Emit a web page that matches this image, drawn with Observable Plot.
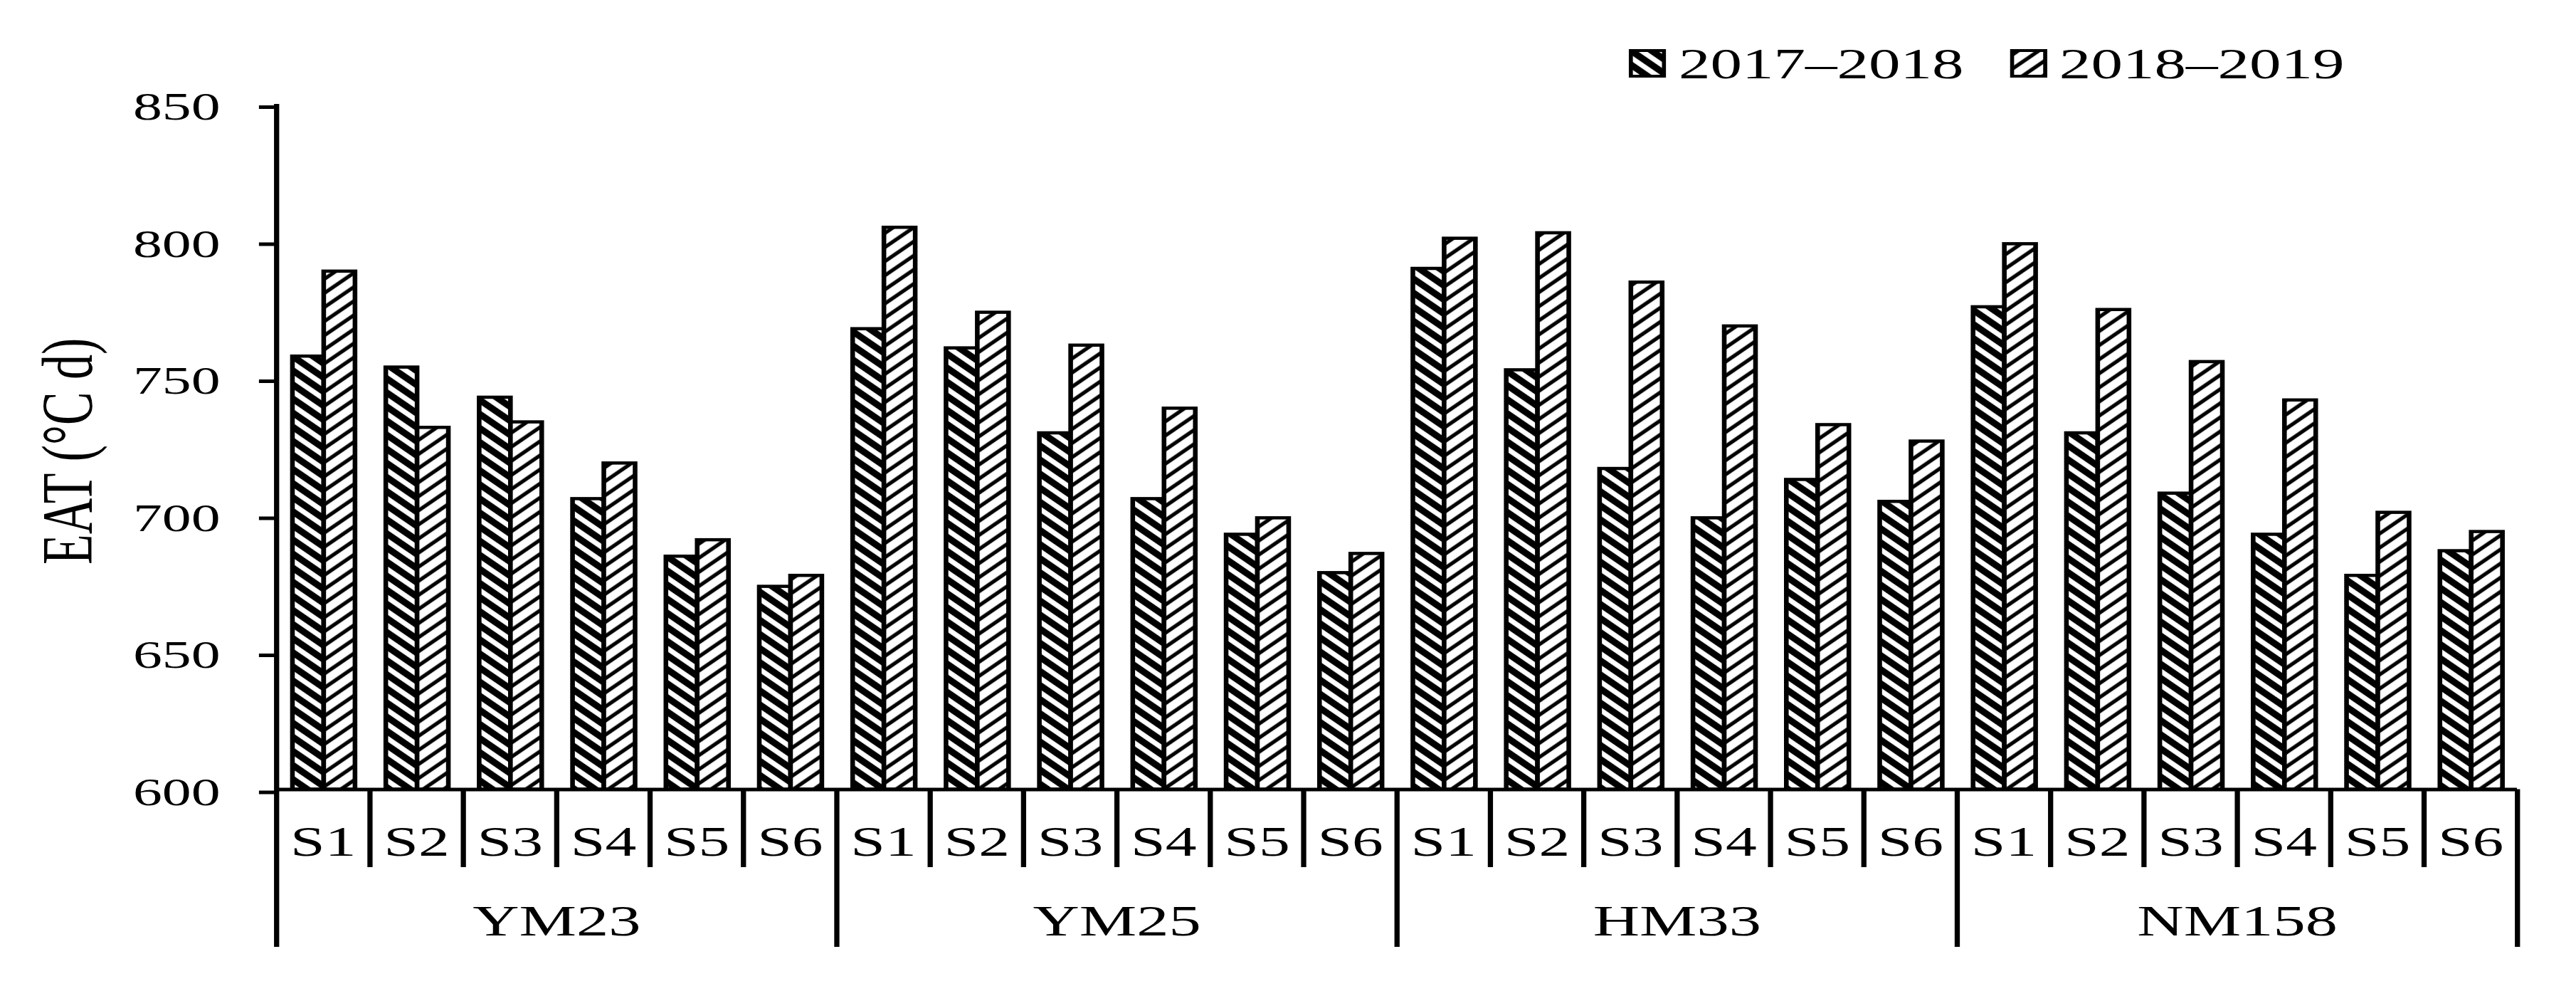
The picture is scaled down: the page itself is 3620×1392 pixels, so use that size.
<!DOCTYPE html>
<html><head><meta charset="utf-8">
<script src="https://cdn.jsdelivr.net/npm/d3@7"></script>
<script src="https://cdn.jsdelivr.net/npm/@observablehq/plot@0.6"></script>
<style>
html,body{margin:0;padding:0;background:#fff;overflow:hidden}
#wrap{position:relative;width:2480px;height:1392px;transform:scaleX(1.4597);transform-origin:0 0;font-family:'Liberation Serif','Times New Roman',serif;color:#000;background:#fff}
#legend{position:absolute;z-index:2;top:58px;left:1568px;height:62px;display:flex;align-items:center;font-size:61px;line-height:1;white-space:nowrap}
#legend .item{display:flex;align-items:center}
#legend .item + .item{margin-left:44px}
#legend svg{display:block;margin-right:12px}
#chart{position:absolute;z-index:1;top:100px;left:0}
</style></head><body>
<svg width="0" height="0" style="position:absolute">
<defs>
<pattern id="p17" patternUnits="userSpaceOnUse" width="14" height="14" patternTransform="rotate(45)">
<rect width="14" height="14" fill="#000"/><rect y="4" width="14" height="6" fill="#fff"/>
</pattern>
<pattern id="p18" patternUnits="userSpaceOnUse" width="14" height="14" patternTransform="rotate(-45)">
<rect width="14" height="14" fill="#fff"/><rect y="5" width="14" height="4.5" fill="#000"/>
</pattern>
</defs></svg>
<div id="wrap"><div id="legend"></div><div id="chart"></div></div>
<script>
// ---- data ----
const groups = ["YM23", "YM25", "HM33", "NM158"];
const sowings = ["S1", "S2", "S3", "S4", "S5", "S6"];
const seasons = ["2017\u20132018", "2018\u20132019"];
const eat2017 = [758, 754, 743, 706, 685, 674, 768, 761, 730, 706, 693, 679, 790, 753, 717, 699, 713, 705, 776, 730, 708, 693, 678, 687];
const eat2018 = [789, 732, 734, 719, 691, 678, 805, 774, 762, 739, 699, 686, 801, 803, 785, 769, 733, 727, 799, 775, 756, 742, 701, 694];
const yTicks = [600, 650, 700, 750, 800, 850];
const yLabel = "EAT (\u00b0C d)";

// ---- layout ----
const W = 2480, H = 1292;
const mTop = 46, mBottom = 283.5, mLeft = 265.8, mRight = 56.9;
const sDepth = 109.5, gDepth = 221.5;
const fills = ["url(#p17)", "url(#p18)"];
const serif = "'Liberation Serif','Times New Roman',serif";

const rows = groups.flatMap((g, gi) => sowings.map((s, si) => {
  const i = gi * sowings.length + si;
  return {g, s, i, v17: eat2017[i], v18: eat2018[i]};
}));
const n = rows.length;
const yMin = yTicks[0], yMax = yTicks[yTicks.length - 1];
const edges = d3.range(0, n + 1);
const groupEdges = edges.filter(k => k % sowings.length === 0 && k !== 0);
const subEdges = edges.filter(k => k % sowings.length !== 0);

const chart = Plot.plot({
  width: W, height: H,
  marginTop: mTop, marginBottom: mBottom, marginLeft: mLeft, marginRight: mRight,
  style: {fontFamily: serif, color: "black", background: "transparent", overflow: "visible"},
  x: {domain: [0, n], axis: null},
  y: {domain: [yMin, yMax]},
  marks: [
    Plot.rectY(rows, {x1: d => d.i + 0.175, x2: d => d.i + 0.51, y1: yMin, y2: "v17", fill: fills[0], stroke: "black", strokeWidth: 4.5}),
    Plot.rectY(rows, {x1: d => d.i + 0.51, x2: d => d.i + 0.845, y1: yMin, y2: "v18", fill: fills[1], stroke: "black", strokeWidth: 4.5}),
    Plot.ruleY([yMin], {x1: 0, x2: n, stroke: "black", strokeWidth: 5}),
    Plot.ruleX([0], {x: d => d, y1: yMax, y2: yMin, insetBottom: -gDepth, stroke: "black", strokeWidth: 5}),
    Plot.ruleX(groupEdges, {x: d => d, y1: yMin, y2: yMin, insetBottom: -gDepth, stroke: "black", strokeWidth: 5}),
    Plot.ruleX(subEdges, {x: d => d, y1: yMin, y2: yMin, insetBottom: -sDepth, stroke: "black", strokeWidth: 5}),
    Plot.axisY({ticks: yTicks, tickFormat: d => String(d), tickSize: 16.5, tickPadding: 37.7, fontSize: 56, strokeWidth: 5, dy: 4, label: null}),
    Plot.text(rows, {x: d => d.i + 0.5, y: yMin, text: "s", dy: 73.5, fontSize: 60}),
    Plot.text(groups, {x: (d, i) => i * sowings.length + sowings.length / 2, y: yMin, text: d => d, dy: 185.5, fontSize: 62}),
    Plot.text([yLabel], {frameAnchor: "left", textAnchor: "middle", text: d => d, rotate: -90, dx: 65.4 - mLeft, dy: 6, fontSize: 70})
  ]
});
document.getElementById("chart").appendChild(chart);

// ---- legend ----
const legend = document.getElementById("legend");
seasons.forEach((s, k) => {
  const item = document.createElement("div");
  item.className = "item";
  item.innerHTML = `<svg width="36" height="40"><rect x="2" y="2" width="32" height="36" fill="${fills[k]}" stroke="black" stroke-width="4"/></svg><span>${s}</span>`;
  legend.appendChild(item);
});
</script>
</body></html>
